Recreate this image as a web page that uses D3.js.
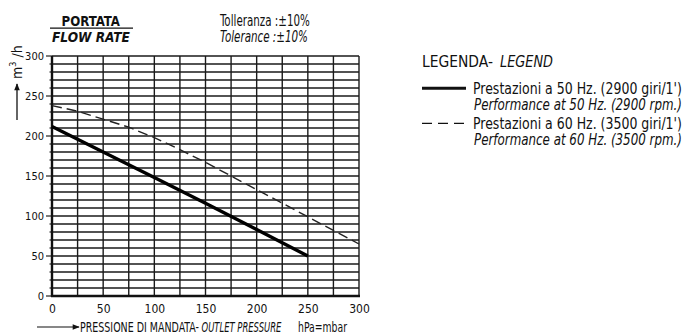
<!DOCTYPE html>
<html>
<head>
<meta charset="utf-8">
<script src="https://cdn.jsdelivr.net/npm/d3@7"></script>
<style>
  html, body { margin: 0; padding: 0; background: #fff; }
  svg { display: block; }
  text { font-family: "DejaVu Sans Condensed", "DejaVu Sans", sans-serif; fill: #111; }
</style>
</head>
<body>
<svg id="chart" width="685" height="336"></svg>
<script>
// ---- data ----
const xTickLabels = [0, 50, 100, 150, 200, 250, 300];
const yTickLabels = [0, 50, 100, 150, 200, 250, 300];
const xGridValues = [0, 25, 50, 75, 100, 125, 150, 175, 200, 225, 250, 275, 300];
const yGridValues = [0, 10, 20, 30, 40, 50, 60, 70, 80, 90, 100, 110, 120, 130, 140, 150,
                     160, 170, 180, 190, 200, 210, 220, 230, 240, 250, 260, 270, 280, 290, 300];
const pressure50 = [0, 50, 100, 150, 200, 250];
const flow50 = [212, 180, 148, 116, 83, 50];
const pressure60 = [0, 25, 50, 75, 100, 125, 150, 175, 200, 225, 250, 275, 300];
const flow60 = [238, 231, 221, 211, 198, 183, 167, 150, 133, 116, 99, 82, 65];
const legendItems = [
  { it: "Prestazioni a 50 Hz. (2900 giri/1')", en: "Performance at 50 Hz. (2900 rpm.)", dash: null, width: 3 },
  { it: "Prestazioni a 60 Hz. (3500 giri/1')", en: "Performance at 60 Hz. (3500 rpm.)", dash: "10,6", width: 1.3 }
];

// ---- layout ----
const svg = d3.select("#chart");
const L = 52, R = 359, T = 56, B = 296;
const x = d3.scaleLinear().domain([0, 300]).range([L, R]);
const y = d3.scaleLinear().domain([0, 300]).range([B, T]);

// text fitted to a target width by horizontal scaling (narrow technical lettering)
function txt(g, s, px, py, opts = {}) {
  const t = g.append("text")
    .attr("x", 0).attr("y", 0)
    .attr("font-size", opts.size || 13)
    .attr("font-weight", opts.weight || "normal")
    .attr("font-style", opts.italic ? "italic" : "normal")
    .text(s);
  let sx = 1;
  if (opts.len) {
    const w = t.node().getComputedTextLength();
    if (w > 0) sx = opts.len / w;
  }
  t.attr("transform", `translate(${px},${py}) scale(${sx},1)`);
  return t;
}

// grid
const grid = svg.append("g");
grid.selectAll("line.h").data(yGridValues).join("line")
  .attr("x1", x(0)).attr("x2", x(300))
  .attr("y1", d => y(d)).attr("y2", d => y(d))
  .attr("stroke", "#1a1a1a").attr("stroke-width", 1.4);
grid.selectAll("line.v").data(xGridValues).join("line")
  .attr("y1", y(0)).attr("y2", y(300))
  .attr("x1", d => x(d)).attr("x2", d => x(d))
  .attr("stroke", "#1a1a1a").attr("stroke-width", 1.4);

// minor ticks on y axis
grid.selectAll("line.yt").data(yGridValues).join("line")
  .attr("x1", d => x(0) - (d % 50 === 0 ? 6 : 2.5)).attr("x2", x(0))
  .attr("y1", d => y(d)).attr("y2", d => y(d))
  .attr("stroke", "#222").attr("stroke-width", 1.2);

// axes main lines
svg.append("line").attr("x1", x(0)).attr("x2", x(0)).attr("y1", y(0) + 1).attr("y2", y(300))
  .attr("stroke", "#111").attr("stroke-width", 2.4);
svg.append("line").attr("x1", x(0) - 1).attr("x2", x(300) + 1).attr("y1", y(0)).attr("y2", y(0))
  .attr("stroke", "#111").attr("stroke-width", 2.4);

// tick labels via axes
const xAxis = svg.append("g").attr("transform", `translate(0,${B})`)
  .call(d3.axisBottom(x).tickValues(xTickLabels).tickSize(0).tickPadding(8));
xAxis.select(".domain").remove();
xAxis.selectAll("text").attr("font-size", 12).attr("fill", "#444")
  .attr("font-family", "'DejaVu Sans Condensed', sans-serif");

const yAxis = svg.append("g").attr("transform", `translate(${L},0)`)
  .call(d3.axisLeft(y).tickValues(yTickLabels).tickSize(0).tickPadding(8));
yAxis.select(".domain").remove();
yAxis.selectAll("text").attr("font-size", 11).attr("fill", "#444")
  .attr("font-family", "'DejaVu Sans Condensed', sans-serif");

// series
const line = d3.line().x(d => x(d[0])).y(d => y(d[1]));
svg.append("path").datum(pressure60.map((p, i) => [p, flow60[i]]))
  .attr("d", line).attr("fill", "none").attr("stroke", "#222")
  .attr("stroke-width", 1.4).attr("stroke-dasharray", "10,5");
svg.append("path").datum(pressure50.map((p, i) => [p, flow50[i]]))
  .attr("d", line).attr("fill", "none").attr("stroke", "#000")
  .attr("stroke-width", 3.4);

// header
const hdr = svg.append("g");
txt(hdr, "PORTATA", 61.5, 25.5, { size: 14.5, weight: "bold", len: 58.5 });
hdr.append("line").attr("x1", 50).attr("x2", 133).attr("y1", 28.2).attr("y2", 28.2)
  .attr("stroke", "#111").attr("stroke-width", 1.3);
txt(hdr, "FLOW RATE", 52, 42, { size: 14.5, weight: "bold", italic: true, len: 78 });
txt(hdr, "Tolleranza :±10%", 220, 25.7, { size: 15.5, len: 90 });
txt(hdr, "Tolerance :±10%", 220, 42.3, { size: 15.5, italic: true, len: 88 });

// y axis title with arrow
const defs = svg.append("defs");
defs.append("marker").attr("id", "arr").attr("viewBox", "0 0 10 10")
  .attr("refX", 9).attr("refY", 5).attr("markerWidth", 8).attr("markerHeight", 7)
  .attr("markerUnits", "userSpaceOnUse").attr("orient", "auto")
  .append("path").attr("d", "M0,1 L10,5 L0,9 Z").attr("fill", "#111");
svg.append("line").attr("x1", 17).attr("x2", 17).attr("y1", 120).attr("y2", 84)
  .attr("stroke", "#111").attr("stroke-width", 1.3).attr("marker-end", "url(#arr)");
const yt = svg.append("text").attr("transform", "translate(22,79) rotate(-90)")
  .attr("font-size", 14);
yt.append("tspan").text("m");
yt.append("tspan").attr("font-size", 9).attr("dy", -6).text("3");
yt.append("tspan").attr("dy", 6).text(" /h");

// x axis title with arrow
svg.append("line").attr("x1", 37).attr("x2", 79).attr("y1", 327).attr("y2", 327)
  .attr("stroke", "#111").attr("stroke-width", 1.2).attr("marker-end", "url(#arr)");
txt(svg, "PRESSIONE DI MANDATA-", 80, 331.5, { size: 13.5, len: 119 });
txt(svg, "OUTLET PRESSURE", 201.5, 331.5, { size: 13.5, italic: true, len: 80 });
txt(svg, "hPa=mbar", 298, 331.5, { size: 13.5, len: 49 });

// legend
const lg = svg.append("g");
txt(lg, "LEGENDA-", 422, 66.7, { size: 16, len: 71 });
txt(lg, "LEGEND", 500, 66.7, { size: 16, italic: true, len: 53 });

legendItems.forEach((d, i) => {
  const yy = 88.3 + i * 35;
  lg.append("line").attr("x1", 422).attr("x2", 466).attr("y1", yy).attr("y2", yy)
    .attr("stroke", "#111").attr("stroke-width", d.width)
    .attr("stroke-dasharray", d.dash);
  txt(lg, d.it, 473, yy + 5.5, { size: 15, len: 209 });
  txt(lg, d.en, 474, yy + 21.5, { size: 15, italic: true, len: 208 });
});
</script>
</body>
</html>
